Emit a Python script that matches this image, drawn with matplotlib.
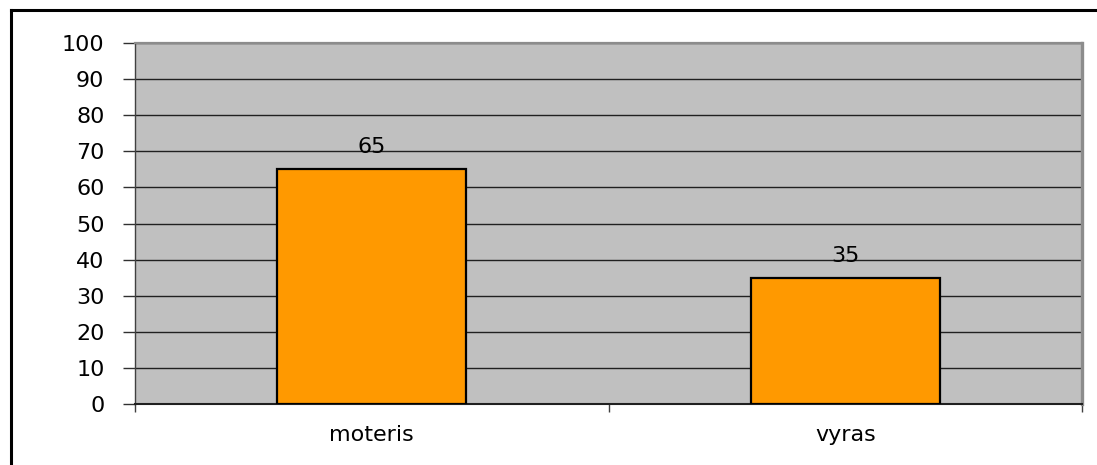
import matplotlib
matplotlib.use("Agg")
import matplotlib.pyplot as plt
from matplotlib.lines import Line2D

categories = ["moteris", "vyras"]
values = [65, 35]
yticks = [0, 10, 20, 30, 40, 50, 60, 70, 80, 90, 100]

W, H = 1097, 465
fig = plt.figure(figsize=(W / 100, H / 100), dpi=100)
fig.patch.set_facecolor("white")

ax = fig.add_axes([135 / W, 1 - 404 / H, 947 / W, 361 / H])
ax.set_facecolor("#C0C0C0")

font = {"family": ["DejaVu Sans"], "size": 16}

x = list(range(len(categories)))
ax.bar(x, values, width=0.4, color="#FF9900", edgecolor="black",
       linewidth=1.6, zorder=3)

for xi, v in zip(x, values):
    ax.annotate(str(v), (xi, v), xytext=(0, 11.5), textcoords="offset points",
                ha="center", va="baseline", color="black", zorder=4, **font)

ax.set_xlim(-0.5, len(categories) - 0.5)
ax.set_ylim(0, 100)
ax.set_yticks(yticks)
ax.set_yticklabels([str(t) for t in yticks], **font)
ax.yaxis.grid(True, color="#202020", linewidth=1.0, zorder=1)
ax.set_axisbelow(True)

ax.set_xticks(x)
ax.set_xticklabels(categories, **font)
ax.set_xticks([i - 0.5 for i in range(len(categories) + 1)], minor=True)
ax.tick_params(axis="x", which="major", length=0, pad=15)
ax.tick_params(axis="x", which="minor", length=6, width=1.0, color="#404040")
ax.tick_params(axis="y", length=9, width=1.0, color="#303030", pad=13)

ax.spines["left"].set_color("#404040")
ax.spines["left"].set_linewidth(1.0)
ax.spines["bottom"].set_color("#202020")
ax.spines["bottom"].set_linewidth(1.5)
ax.spines["top"].set_color("#8C8C8C")
ax.spines["top"].set_linewidth(1.6)
ax.spines["right"].set_color("#8C8C8C")
ax.spines["right"].set_linewidth(2.4)

# outer chart frame (top and left edges)
fx, fy = 10.5 / W, 1 - 10.5 / H
fig.add_artist(Line2D([fx, 1.0], [fy, fy], transform=fig.transFigure,
                      color="black", linewidth=2.2))
fig.add_artist(Line2D([fx, fx], [0.0, fy], transform=fig.transFigure,
                      color="black", linewidth=2.2))

fig.savefig("out.png", dpi=100, facecolor="white")
